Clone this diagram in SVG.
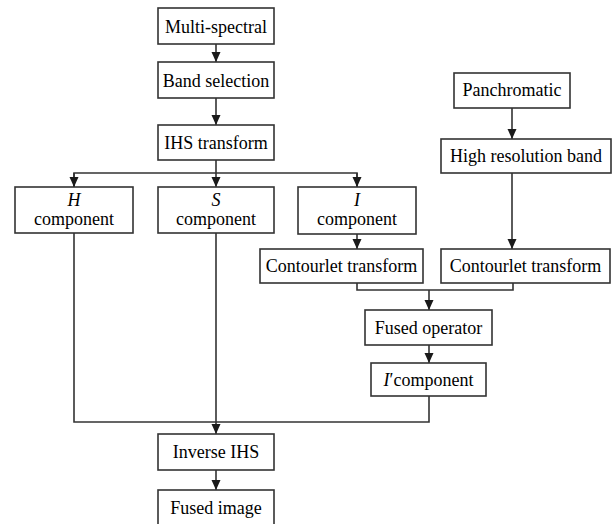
<svg xmlns="http://www.w3.org/2000/svg" width="613" height="524" viewBox="0 0 613 524">
<defs>
<marker id="ah" markerUnits="userSpaceOnUse" markerWidth="10" markerHeight="11" refX="5" refY="10" orient="0" viewBox="0 0 10 11">
<path d="M0.5,0 L9.5,0 L5,10 Z" fill="#1a1a1a"/>
</marker>
<style>
rect{fill:#fff;stroke:#333;stroke-width:1.6}
text{font-family:"Liberation Serif","Times New Roman",serif;font-size:18px;fill:#000;text-anchor:middle}
.c line,.c path{stroke:#333;stroke-width:1.6;fill:none}
.i{font-style:italic}
</style>
</defs>
<rect x="0" y="0" width="613" height="524" style="fill:#fff;stroke:none"/>
<g class="c" id="connectors">
<line x1="216" y1="44" x2="216" y2="62" marker-end="url(#ah)"/>
<line x1="216" y1="98" x2="216" y2="125" marker-end="url(#ah)"/>
<line x1="216" y1="160" x2="216" y2="187" marker-end="url(#ah)"/>
<path d="M74,187 V173 H357 V187"/>
<line x1="74" y1="173" x2="74" y2="187" marker-end="url(#ah)"/>
<line x1="357" y1="173" x2="357" y2="187" marker-end="url(#ah)"/>
<line x1="512" y1="108" x2="512" y2="139" marker-end="url(#ah)"/>
<line x1="512" y1="173" x2="512" y2="249" marker-end="url(#ah)"/>
<line x1="357" y1="234" x2="357" y2="249" marker-end="url(#ah)"/>
<path d="M357,283 V290 H513 V283"/>
<line x1="429" y1="290" x2="429" y2="310" marker-end="url(#ah)"/>
<line x1="429" y1="345" x2="429" y2="363" marker-end="url(#ah)"/>
<path d="M429,396 V422 H74 V233"/>
<line x1="216" y1="233" x2="216" y2="434" marker-end="url(#ah)"/>
<line x1="216" y1="470" x2="216" y2="490" marker-end="url(#ah)"/>
</g>
<g id="multispectral"><rect x="158" y="8" width="116" height="36"/><text x="216" y="33">Multi-spectral</text></g>
<g id="band-selection"><rect x="158" y="62" width="116" height="36"/><text x="216" y="87">Band selection</text></g>
<g id="ihs-transform"><rect x="158" y="125" width="116" height="35"/><text x="216" y="149">IHS transform</text></g>
<g id="h-component"><rect x="15" y="187" width="118" height="46"/><text x="74" y="206" class="i">H</text><text x="74" y="225">component</text></g>
<g id="s-component"><rect x="158" y="187" width="116" height="46"/><text x="216" y="206" class="i">S</text><text x="216" y="225">component</text></g>
<g id="i-component"><rect x="298" y="187" width="118" height="47"/><text x="357" y="206" class="i">I</text><text x="357" y="225">component</text></g>
<g id="panchromatic"><rect x="454" y="73" width="116" height="35"/><text x="512" y="96">Panchromatic</text></g>
<g id="high-res-band"><rect x="441" y="139" width="170" height="34"/><text x="526" y="162">High resolution band</text></g>
<g id="contourlet-left"><rect x="260" y="249" width="163" height="34"/><text x="341.5" y="272">Contourlet transform</text></g>
<g id="contourlet-right"><rect x="441" y="249" width="169" height="34"/><text x="525.5" y="272">Contourlet transform</text></g>
<g id="fused-operator"><rect x="365" y="310" width="127" height="35"/><text x="428.5" y="334">Fused operator</text></g>
<g id="i-prime-component"><rect x="371" y="363" width="115" height="33"/><text x="428.5" y="386"><tspan class="i">I</tspan>′component</text></g>
<g id="inverse-ihs"><rect x="158" y="434" width="116" height="36"/><text x="216" y="458">Inverse IHS</text></g>
<g id="fused-image"><rect x="158" y="490" width="116" height="40"/><text x="216" y="514">Fused image</text></g>
</svg>
